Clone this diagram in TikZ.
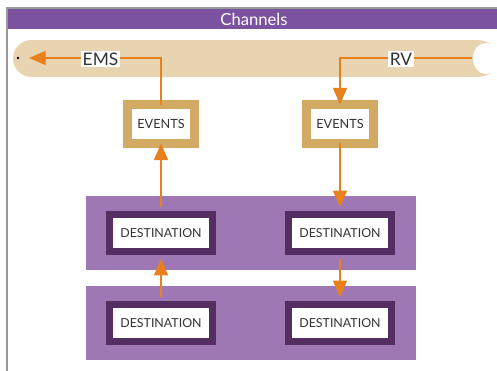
\documentclass[tikz,border=0pt]{standalone}
\usepackage{fontspec}
\setmainfont{Lato}
\usetikzlibrary{arrows.meta}
\definecolor{hdr}{HTML}{7B52A0}
\definecolor{band}{HTML}{9E77B5}
\definecolor{dpur}{HTML}{542D63}
\definecolor{tanbox}{HTML}{D2AA64}
\definecolor{tube}{HTML}{E8D4B0}
\definecolor{org}{HTML}{E8801E}
\definecolor{txt}{HTML}{333333}
\definecolor{frame}{HTML}{999999}
\begin{document}
\begin{tikzpicture}[x=0.75pt,y=-0.75pt,
  evbox/.style={draw=tanbox,line width=6.75pt,fill=white,minimum width=50.25pt,minimum height=29.25pt,inner sep=0pt,font=\fontsize{9.5}{10}\selectfont,text=txt},
  destbox/.style={draw=dpur,line width=5.6pt,fill=white,minimum width=76.9pt,minimum height=27.4pt,inner sep=0pt,font=\fontsize{9.3}{10}\selectfont,text=txt},
  lbl/.style={fill=white,inner sep=1.5pt,text=txt,font=\fontsize{13}{14}\selectfont},
  conn/.style={draw=org,line width=1pt,-{Triangle[width=10.5pt,length=12.5pt]}}]
\useasboundingbox (0,0) rectangle (497,371);
% frame and header
\fill[white] (0,0) rectangle (497,371);
\draw[frame,line width=1.5pt] (7,371) -- (7,8) -- (497,8);
\fill[hdr] (7.8,9) rectangle (497,29);
\node[text=white,font=\fontsize{12.5}{14}\selectfont] (title) at (254,19) {Channels};
% tube
\fill[tube] (31.5,40) -- (477,40) arc[start angle=-90,end angle=90,x radius=22,y radius=18.5] -- (31.5,77) arc[start angle=90,end angle=270,radius=18.5] -- cycle;
\fill[white] (486,58.5) ellipse[x radius=13,y radius=15.5];
\coordinate (rvstart) at (472,58);
\node[circle,fill=black,inner sep=0pt,minimum size=2.2pt] (dot) at (18,58) {};
\coordinate (emsend) at (29,58);
% purple bands
\fill[band] (86,196) rectangle (416,270);
\fill[band] (86,286) rectangle (416,360);
% boxes
\node[evbox] (evL) at (161,124) {EVENTS};
\node[evbox] (evR) at (340,124) {EVENTS};
\node[destbox] (dTL) at (161,233) {DESTINATION};
\node[destbox] (dTR) at (340,233) {DESTINATION};
\node[destbox] (dBL) at (161,323) {DESTINATION};
\node[destbox] (dBR) at (340,323) {DESTINATION};
% connectors
\draw[conn] ([yshift=-3.4pt]evL.north) -- (161,58) -- (emsend);
\draw[conn] (rvstart) -- (340,58) -- ([yshift=-3.4pt]evR.north);
\draw[conn] ([yshift=2.8pt]dTL.north) -- ([yshift=3.4pt]evL.south);
\draw[conn] ([yshift=2.8pt]dBL.north) -- ([yshift=-2.8pt]dTL.south);
\draw[conn] ([yshift=3.4pt]evR.south) -- ([yshift=2.8pt]dTR.north);
\draw[conn] ([yshift=-2.8pt]dTR.south) -- ([yshift=2.8pt]dBR.north);
% labels on lines
\node[lbl] (ems) at (100.5,59) {EMS};
\node[lbl] (rv) at (401,59) {RV};
\end{tikzpicture}
\end{document}
